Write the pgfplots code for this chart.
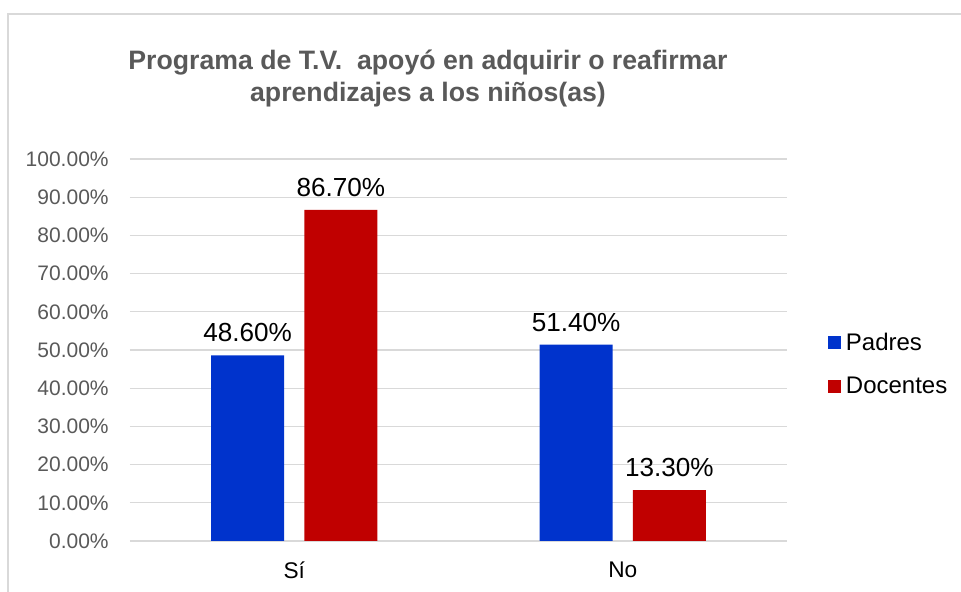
\documentclass[border=0pt]{standalone}
\usepackage{fontspec}
\setmainfont{Liberation Sans}
\usepackage{pgfplots}
\pgfplotsset{compat=1.18}
\definecolor{padres}{HTML}{0033CC}
\definecolor{docentes}{HTML}{C00000}
\definecolor{gridgray}{HTML}{D9D9D9}
\definecolor{textgray}{HTML}{595959}

\begin{document}
\begin{tikzpicture}
% canvas the size of the reference (1px = 0.75pt)
\path[use as bounding box] (0,0) rectangle (720.75pt,444pt);
\draw[gridgray, line width=1pt] (6pt,0) -- (6pt,433.5pt) -- (720.75pt,433.5pt);
\node[font=\fontsize{20}{24}\selectfont\bfseries, text=textgray, align=center]
  at (321pt,385.5pt) {Programa de T.V.\ \ apoyó en adquirir o reafirmar\\aprendizajes a los niños(as)};
\begin{axis}[
    at={(97.5pt,38.25pt)}, anchor=south west,
    width=492.75pt, height=286.5pt, scale only axis,
    ybar, bar width=54.75pt,
    xmin=-0.5, xmax=1.5, ymin=0, ymax=100,
    xtick={0,1}, xticklabels={Sí,No},
    ytick={0,10,...,100},
    yticklabel={\pgfmathprintnumber[fixed,fixed zerofill,precision=2,assume math mode=true]{\tick}\%},
    yticklabel style={font=\fontsize{15.75}{18}\selectfont, text=textgray, xshift=-12.5pt},
    xticklabel style={font=\fontsize{17}{20}\selectfont, text=black, yshift=-12pt},
    ymajorgrids, grid style={gridgray, line width=1pt},
    axis line style={draw=none}, major tick length=0,
    nodes near coords={\pgfmathprintnumber[fixed,fixed zerofill,precision=2,assume math mode=true]{\pgfplotspointmeta}\%},
    every node near coord/.append style={font=\fontsize{19.6}{22}\selectfont, text=black, yshift=6.5pt},
    legend image code/.code={\fill[#1] (0pt,-4.875pt) rectangle (9.75pt,4.875pt);},
    legend style={at={(1.0624,0.462)}, anchor=west, draw=none, fill=none,
        font=\fontsize{18}{20}\selectfont, row sep=14.5pt, inner xsep=0pt,
        /tikz/every odd column/.append style={column sep=1.5pt}},
    legend cell align=left,
]
\addplot[fill=padres, draw=none, bar shift=-35pt] coordinates {(0,48.6) (1,51.4)};
\addlegendentry{Padres}
\addplot[fill=docentes, draw=none, bar shift=35pt] coordinates {(0,86.7) (1,13.3)};
\addlegendentry{Docentes}
\end{axis}
\end{tikzpicture}
\end{document}
